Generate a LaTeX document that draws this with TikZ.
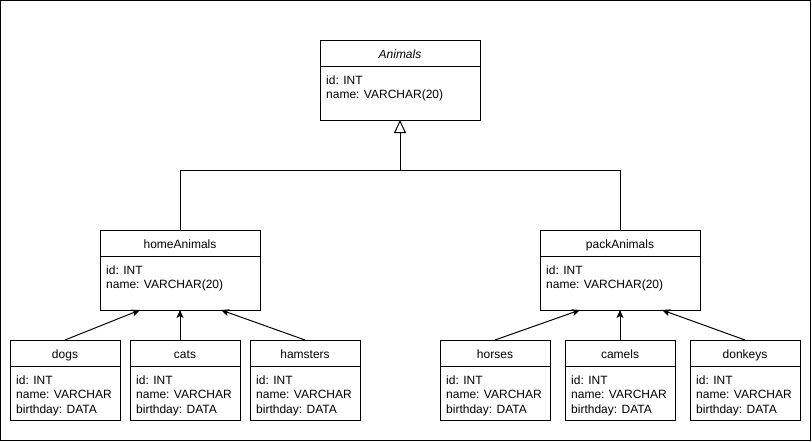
\documentclass[tikz,border=0pt]{standalone}
\usepackage{fontspec}
\setmainfont{Liberation Sans}
\usetikzlibrary{arrows.meta,calc}
\tikzset{
  box/.style={draw, line width=1pt, anchor=north west, minimum height=80pt, inner sep=0pt, outer sep=0pt},
  titletxt/.style={anchor=base, inner sep=0pt, font=\fontsize{12}{14.5}\selectfont},
  bodytxt/.style={anchor=north west, inner sep=0pt, align=left, font=\fontsize{12}{14.5}\selectfont},
  assoc/.style={line width=1pt, -{Stealth[length=8pt,width=7pt,inset=2pt]}},
  gen/.style={line width=1pt, -{Triangle[open,length=13pt,width=12pt]}},
  plain/.style={line width=1pt}
}
\newcommand\umlbox[6]{%
  \node[box, minimum width=#4pt] (#1) at (#2,#3) {};
  \draw[plain] ($(#1.north west)+(0pt,-26pt)$) -- ($(#1.north east)+(0pt,-26pt)$);
  \node[titletxt] (#1-t) at ($(#1.north)+(0pt,-18pt)$) {#5};
  \node[bodytxt] (#1-b) at ($(#1.north west)+(6pt,-35.4pt)$) {#6};
}
\begin{document}
\begin{tikzpicture}[x=1pt,y=-1pt]
\useasboundingbox (0,0) rectangle (812,442);
\draw[plain] (0.5,0.5) rectangle (810,440);

\umlbox{animals}{320}{40}{160}{\itshape Animals}{id: INT\\name: VARCHAR(20)}
\umlbox{home}{100}{230}{160}{homeAnimals}{id: INT\\name: VARCHAR(20)}
\umlbox{pack}{540}{230}{160}{packAnimals}{id: INT\\name: VARCHAR(20)}

\umlbox{dogs}{10}{340}{110}{dogs}{id: INT\\name: VARCHAR\\birthday: DATA}
\umlbox{cats}{130}{340}{110}{cats}{id: INT\\name: VARCHAR\\birthday: DATA}
\umlbox{hamsters}{250}{340}{110}{hamsters}{id: INT\\name: VARCHAR\\birthday: DATA}
\umlbox{horses}{440}{340}{110}{horses}{id: INT\\name: VARCHAR\\birthday: DATA}
\umlbox{camels}{565}{340}{110}{camels}{id: INT\\name: VARCHAR\\birthday: DATA}
\umlbox{donkeys}{690}{340}{110}{donkeys}{id: INT\\name: VARCHAR\\birthday: DATA}

\coordinate (j) at (400,170);
\draw[gen] (home.north) |- (j) -- (animals.south);
\draw[plain] (pack.north) |- (j);

\draw[assoc] (dogs.north) -- ($(home.south)+(-40pt,0pt)$);
\draw[assoc] ($(cats.north)+(-5pt,0pt)$) -- (home.south);
\draw[assoc] (hamsters.north) -- ($(home.south)+(41pt,0pt)$);
\draw[assoc] (horses.north) -- ($(pack.south)+(-40pt,0pt)$);
\draw[assoc] (camels.north) -- (pack.south);
\draw[assoc] (donkeys.north) -- ($(pack.south)+(42pt,0pt)$);
\end{tikzpicture}
\end{document}
